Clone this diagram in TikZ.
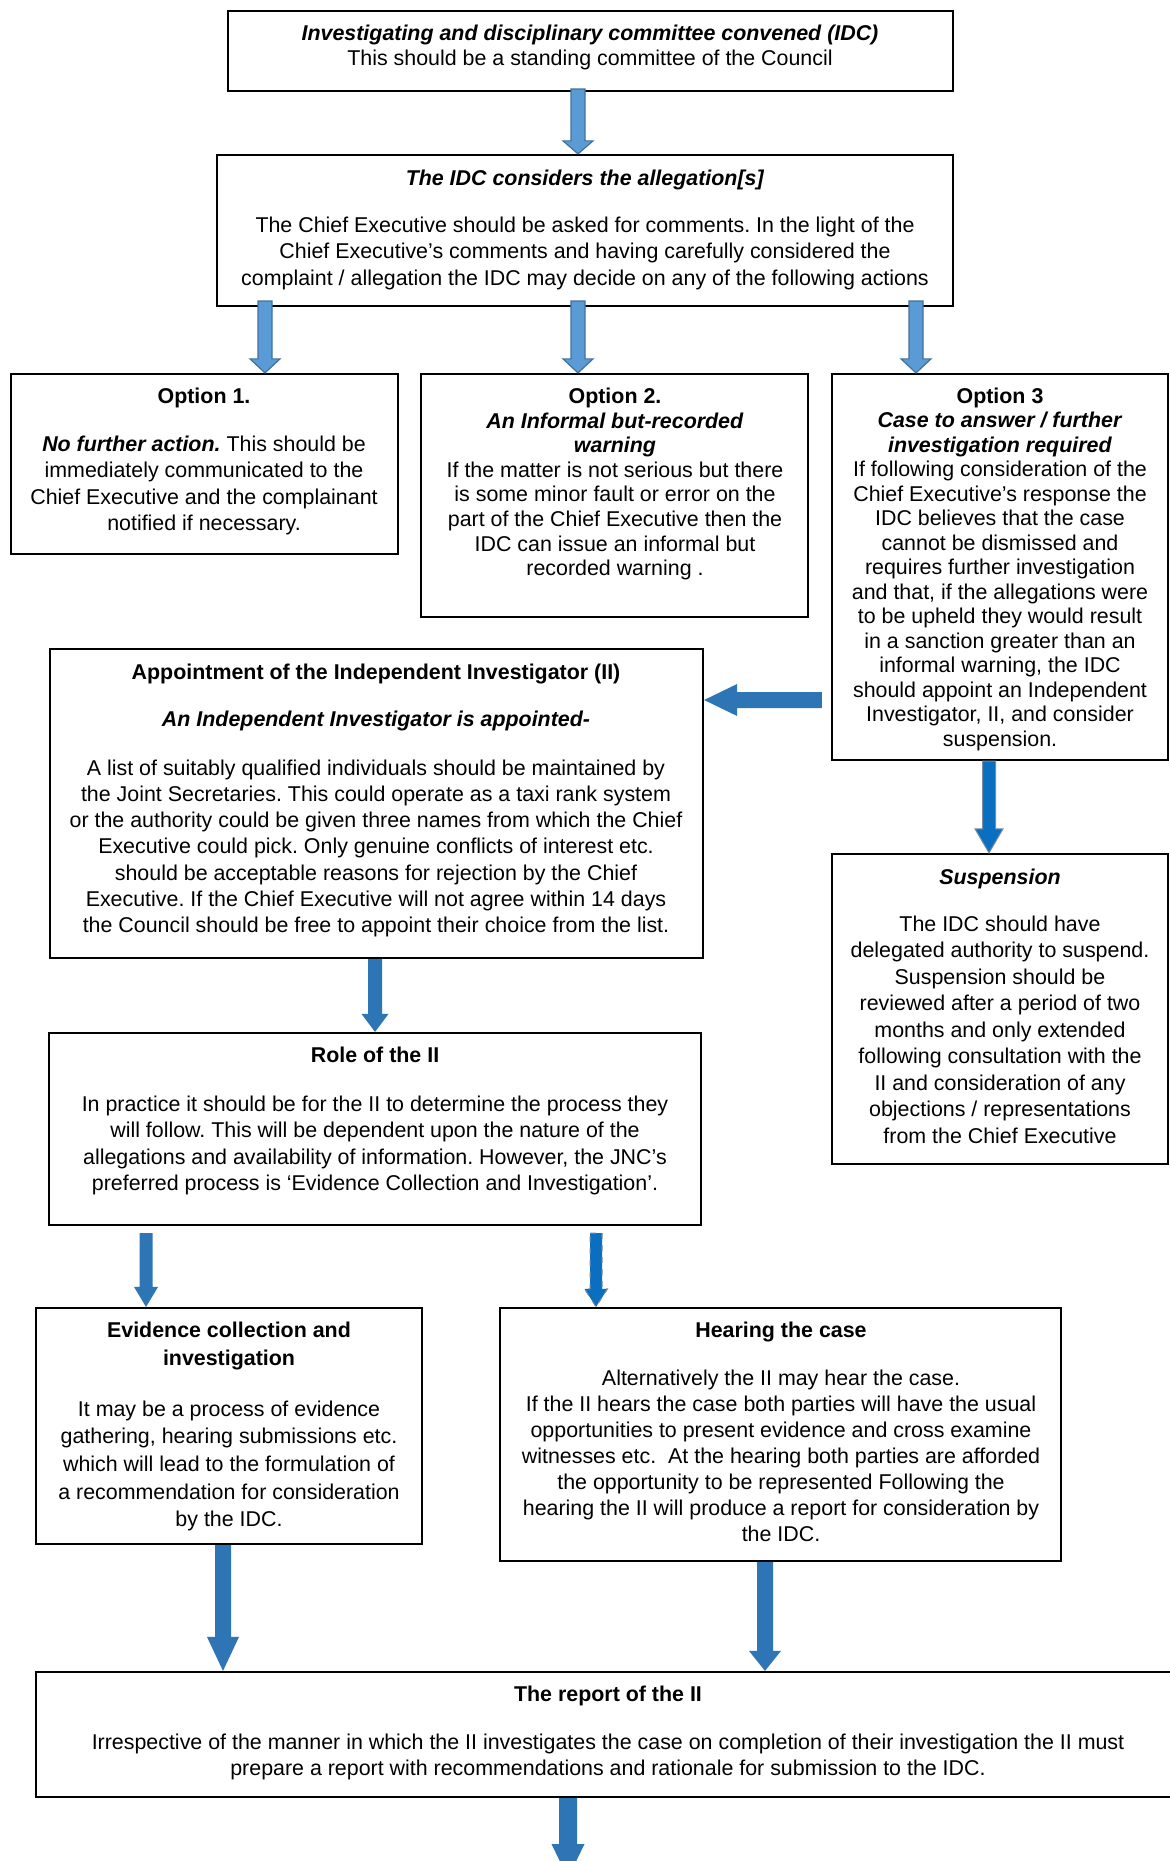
\documentclass[tikz,border=0pt]{standalone}
\usepackage{fontspec}
\setmainfont{Liberation Sans}
\usetikzlibrary{calc}
\definecolor{arrA}{HTML}{5B9BD5}
\definecolor{arrAd}{HTML}{41719C}
\definecolor{arrB}{HTML}{2E75B6}
\definecolor{arrC}{HTML}{0A6FC0}
\definecolor{arrCd}{HTML}{7A8CA3}
% vertical block arrow: style, from, to, x (px), half shaft, half head, head length
\newcommand\varrow[7]{%
 \path[#1] let \p1=#2, \p2=#3, \n1={#4*0.5} in
 ({\n1*1pt-#5},\y1) -- ({\n1*1pt+#5},\y1) -- ({\n1*1pt+#5},{\y2+#7})
 -- ({\n1*1pt+#6},{\y2+#7}) -- ({\n1*1pt},\y2) -- ({\n1*1pt-#6},{\y2+#7})
 -- ({\n1*1pt-#5},{\y2+#7}) -- cycle;}
\tikzset{
 box/.style={draw=black, line width=1.1pt, inner sep=0pt},
 txt/.style={anchor=north, align=center, inner sep=0pt},
 arrowA/.style={fill=arrA, draw=arrAd, line width=0.6pt},
 arrowB/.style={fill=arrB},
 arrowC/.style={fill=arrC, draw=arrCd, line width=0.5pt},
 arrowD/.style={fill=arrC, draw=arrCd, line width=0.5pt, dashed},
}
\newcommand\fs[1]{\fontsize{10.7}{#1}\selectfont\frenchspacing}
\newcommand\st{\rule{0pt}{10pt}}
\begin{document}
\begin{tikzpicture}[x=0.5pt,y=-0.5pt]
\useasboundingbox[fill=white] (0,0) rectangle (1169,1861);

% boxes
\node[box, minimum width=362.5pt, minimum height=40pt] (b1) at (590.5,51) {};
\node[box, minimum width=368pt, minimum height=75.5pt] (b2) at (585,230.5) {};
\node[box, minimum width=193.5pt, minimum height=90pt] (o1) at (204.5,464) {};
\node[box, minimum width=193.5pt, minimum height=121.5pt] (o2) at (614.5,495.5) {};
\node[box, minimum width=168pt, minimum height=193pt] (o3) at (1000,567) {};
\node[box, minimum width=326.5pt, minimum height=154.5pt] (app) at (376.5,803.5) {};
\node[box, minimum width=168pt, minimum height=155pt] (sus) at (1000,1009) {};
\node[box, minimum width=326pt, minimum height=96pt] (role) at (375,1129) {};
\node[box, minimum width=193pt, minimum height=118pt] (evi) at (229,1426) {};
\node[box, minimum width=280.5pt, minimum height=126.5pt] (hear) at (780.5,1434.5) {};
\node[box, minimum width=574.5pt, minimum height=62.5pt] (rep) at (610.5,1734.5) {};

% texts
\node[txt, font=\fs{12.5pt}] (t1) at (590,20) {\st\textbf{\textit{Investigating and disciplinary committee convened (IDC)}}\\
This should be a standing committee of the Council};
\node[txt, font=\fs{13.25pt}] (t2) at (585,165) {\st\textbf{\textit{The IDC considers the allegation[s]}}\\[10.25pt]
The Chief Executive should be asked for comments. In the light of the\\
Chief Executive’s comments and having carefully considered the\\
complaint / allegation the IDC may decide on any of the following actions};
\node[txt, font=\fs{13.15pt}] (t3) at (204,383) {\st\textbf{Option 1.}\\[10.85pt]
\textbf{\textit{No further action.}} This should be\\
immediately communicated to the\\
Chief Executive and the complainant\\
notified if necessary.};
\node[txt, font=\fs{12.3pt}] (t4) at (615,383) {\st\textbf{Option 2.}\\
\textbf{\textit{An Informal but-recorded}}\\
\textbf{\textit{warning}}\\
If the matter is not serious but there\\
is some minor fault or error on the\\
part of the Chief Executive then the\\
IDC can issue an informal but\\
recorded warning .};
\node[txt, font=\fs{12.25pt}] (t5) at (1000,383) {\st\textbf{Option 3}\\
\textbf{\textit{Case to answer / further}}\\
\textbf{\textit{investigation required}}\\
If following consideration of the\\
Chief Executive’s response the\\
IDC believes that the case\\
cannot be dismissed and\\
requires further investigation\\
and that, if the allegations were\\
to be upheld they would result\\
in a sanction greater than an\\
informal warning, the IDC\\
should appoint an Independent\\
Investigator, II, and consider\\
suspension.};
\node[txt, font=\fs{13.05pt}] (t6) at (376,659) {\st\textbf{Appointment of the Independent Investigator (II)}\\[10.5pt]
\textbf{\textit{An Independent Investigator is appointed-}}\\[11.5pt]
A list of suitably qualified individuals should be maintained by\\
the Joint Secretaries. This could operate as a taxi rank system\\
or the authority could be given three names from which the Chief\\
Executive could pick. Only genuine conflicts of interest etc.\\
should be acceptable reasons for rejection by the Chief\\
Executive. If the Chief Executive will not agree within 14 days\\
the Council should be free to appoint their choice from the list.};
\node[txt, font=\fs{13.25pt}] (t7) at (1000,864) {\st\textbf{\textit{Suspension}}\\[10.25pt]
The IDC should have\\
delegated authority to suspend.\\
Suspension should be\\
reviewed after a period of two\\
months and only extended\\
following consultation with the\\
II and consideration of any\\
objections / representations\\
from the Chief Executive};
\node[txt, font=\fs{13.15pt}] (t8) at (375,1042) {\st\textbf{Role of the II}\\[11.35pt]
In practice it should be for the II to determine the process they\\
will follow. This will be dependent upon the nature of the\\
allegations and availability of information. However, the JNC’s\\
preferred process is ‘Evidence Collection and Investigation’.};
\node[txt, font=\fs{13.85pt}] (t9) at (229,1317) {\st\textbf{Evidence collection and}\\
\textbf{investigation}\\[11.6pt]
It may be a process of evidence\\
gathering, hearing submissions etc.\\
which will lead to the formulation of\\
a recommendation for consideration\\
by the IDC.};
\node[txt, font=\fs{13pt}] (t10) at (781,1317) {\st\textbf{Hearing the case}\\[11pt]
Alternatively the II may hear the case.\\
If the II hears the case both parties will have the usual\\
opportunities to present evidence and cross examine\\
witnesses etc.\ \ At the hearing both parties are afforded\\
the opportunity to be represented Following the\\
hearing the II will produce a report for consideration by\\
the IDC.};
\node[txt, font=\fs{13pt}] (t11) at (608,1681) {\st\textbf{The report of the II}\\[11pt]
Irrespective of the manner in which the II investigates the case on completion of their investigation the II must\\
prepare a report with recommendations and rationale for submission to the IDC.};

% arrows
\varrow{arrowA}{($(b1.south)+(0,-3)$)}{(b2.north)}{578}{3.5pt}{7.5pt}{6.5pt}
\varrow{arrowA}{($(b2.south)+(0,-6)$)}{(o1.north)}{265}{3.5pt}{7.5pt}{7pt}
\varrow{arrowA}{($(b2.south)+(0,-6)$)}{(o2.north)}{578}{3.5pt}{7.5pt}{7pt}
\varrow{arrowA}{($(b2.south)+(0,-6)$)}{(o3.north)}{916}{3.5pt}{7.5pt}{7pt}
\varrow{arrowC}{(o3.south)}{(sus.north)}{989}{3.25pt}{7pt}{12pt}
\varrow{arrowB}{(app.south)}{(role.north)}{375}{3.5pt}{6.75pt}{9pt}
\varrow{arrowB}{($(role.south)+(0,7)$)}{(evi.north)}{146}{3.25pt}{6pt}{10pt}
\varrow{arrowD}{($(role.south)+(0,7)$)}{(hear.north)}{596}{3pt}{5.75pt}{9pt}
\varrow{arrowB}{(evi.south)}{(rep.north)}{223}{4pt}{8pt}{17pt}
\varrow{arrowB}{(hear.south)}{(rep.north)}{765}{4pt}{8pt}{10pt}
\coordinate (endpt) at (568,1878);
\varrow{arrowB}{(rep.south)}{(endpt)}{568}{4.5pt}{8.25pt}{17pt}
% horizontal arrow option 3 -> appointment
\path[arrowB] let \p1=($(o3.west)+(-9,0)$), \p2=(app.east), \n1={-350} in
 (\x1,{\n1*1pt+4pt}) -- (\x1,{\n1*1pt-4pt}) -- ({\x2+16.5pt},{\n1*1pt-4pt})
 -- ({\x2+16.5pt},{\n1*1pt-8pt}) -- (\x2,{\n1*1pt}) -- ({\x2+16.5pt},{\n1*1pt+8pt})
 -- ({\x2+16.5pt},{\n1*1pt+4pt}) -- cycle;
\end{tikzpicture}
\end{document}
